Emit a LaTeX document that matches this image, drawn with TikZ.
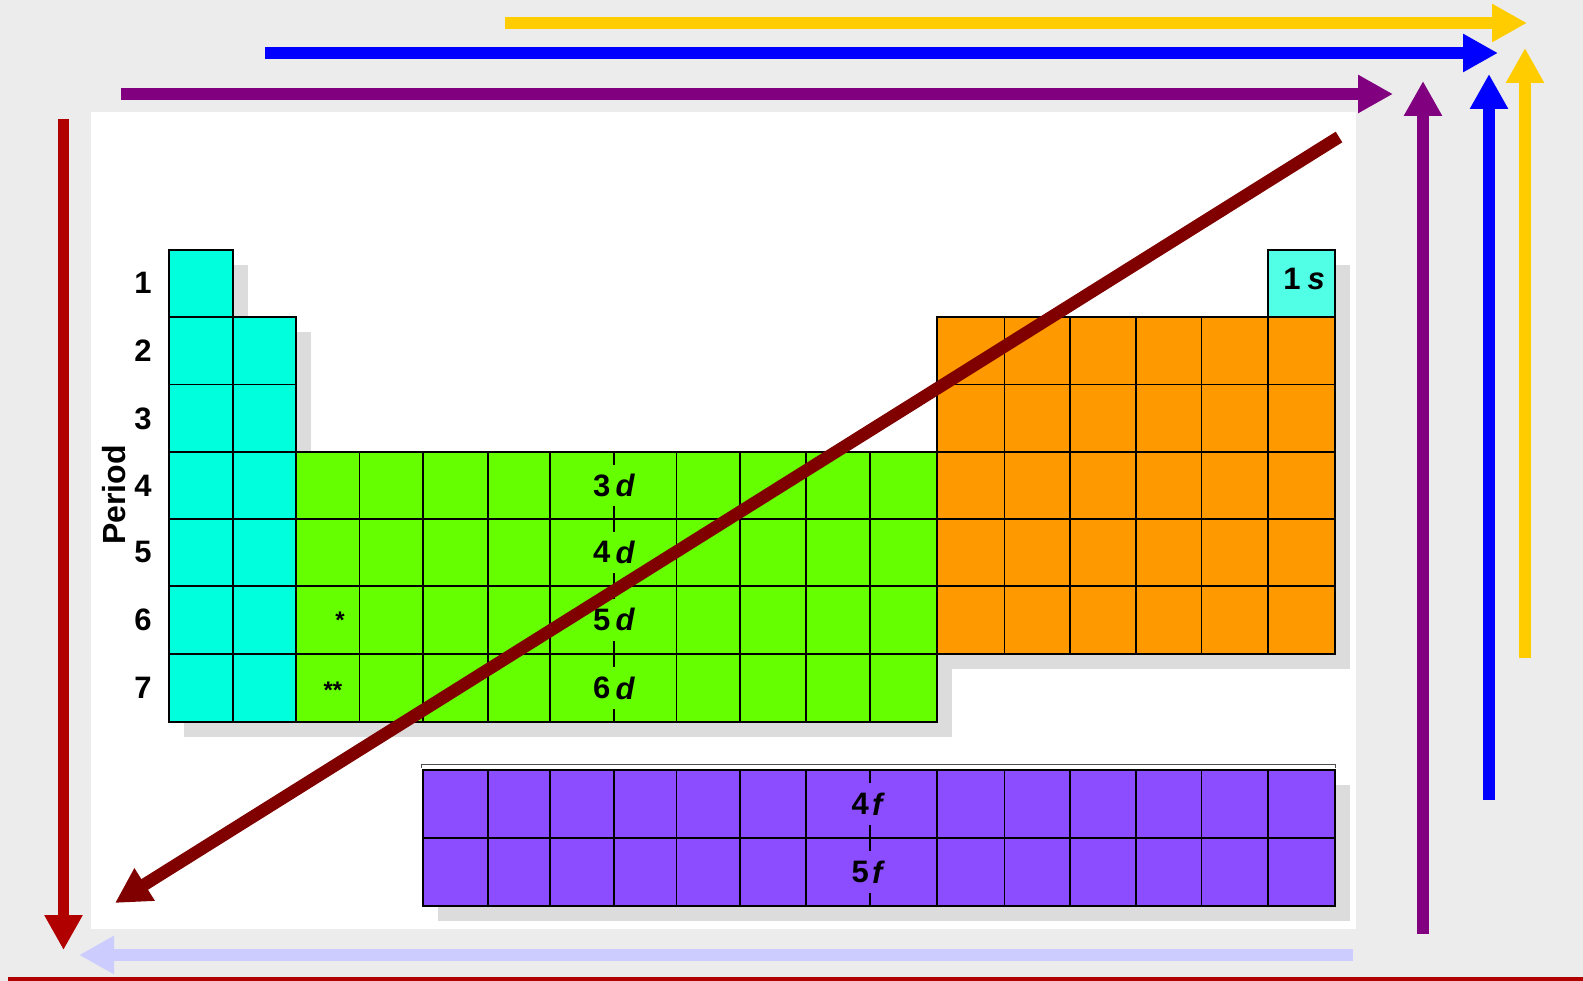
\documentclass[tikz,border=0pt]{standalone}
\usepackage{fontspec}
\setmainfont{Liberation Sans}
\usetikzlibrary{arrows.meta}
\definecolor{bgc}{HTML}{ECECEC}
\definecolor{cyanc}{HTML}{00FFDC}
\definecolor{onesc}{HTML}{50FFE6}
\definecolor{greenc}{HTML}{66FF00}
\definecolor{orangec}{HTML}{FF9900}
\definecolor{purplec}{HTML}{8C4CFF}
\definecolor{shadowc}{HTML}{DCDCDC}
\definecolor{redc}{HTML}{B00000}
\definecolor{darkredc}{HTML}{800000}
\definecolor{violetc}{HTML}{800080}
\definecolor{bluec}{HTML}{0000FF}
\definecolor{yellowc}{HTML}{FFCC00}
\definecolor{lavc}{HTML}{CCCCFF}
\def\xs{{168.6,233.2,295.8,359.4,423,487.6,550.2,613.8,676.4,740,805.6,870.2,936.9,1004.5,1070.2,1135.8,1201.4,1268,1334.6}}
\def\ys{{250.4,317,384.6,452.3,518.9,585.6,654.2,721.8}}
\def\fys{{770.3,838,905.6}}
% cell: column, row, fill colour, row-array
\newcommand\pcell[4]{%
  \pgfmathtruncatemacro\pia{#1-1}%
  \pgfmathtruncatemacro\pja{#2-1}%
  \pgfmathsetmacro\pxa{\xs[\pia]}%
  \pgfmathsetmacro\pxb{\xs[#1]}%
  \pgfmathsetmacro\pya{#4[\pja]}%
  \pgfmathsetmacro\pyb{#4[#2]}%
  \filldraw[cellbox,fill=#3] (\pxa,\pya) rectangle (\pxb,\pyb);}
% shadow block: col from, col to, row from, row to, row-array
\newcommand\pshade[5]{%
  \pgfmathtruncatemacro\pia{#1-1}%
  \pgfmathtruncatemacro\pja{#3-1}%
  \pgfmathsetmacro\pxa{\xs[\pia]}%
  \pgfmathsetmacro\pxb{\xs[#2]}%
  \pgfmathsetmacro\pya{#5[\pja]}%
  \pgfmathsetmacro\pyb{#5[#4]}%
  \fill[shadowc,shift={(15,15)}] (\pxa,\pya) rectangle (\pxb,\pyb);}
\begin{document}
\begin{tikzpicture}[x=1pt,y=-1pt,
  cellbox/.style={draw=black,line width=1.8pt},
  arr/.style={line width=12pt,-{Triangle[length=35pt,width=36pt]}},
  lbl/.style={font=\fontsize{31}{36}\selectfont\bfseries,inner sep=0pt},
  star/.style={font=\fontsize{24}{28}\selectfont\bfseries,inner sep=0pt}]
\useasboundingbox (0,0) rectangle (1583,981);
\fill[bgc] (0,0) rectangle (1583,981);
% white panel
\fill[white] (91,112) rectangle (1356,929);
% shadows
\pshade{1}{1}{1}{1}{\ys}
\pshade{1}{2}{2}{7}{\ys}
\pshade{3}{12}{4}{7}{\ys}
\pshade{13}{18}{2}{6}{\ys}
\pshade{18}{18}{1}{1}{\ys}
\pshade{5}{18}{1}{2}{\fys}
% s block
\pcell{1}{1}{cyanc}{\ys}
\foreach \r in {2,...,7}{\foreach \c in {1,2}{\pcell{\c}{\r}{cyanc}{\ys}}}
% d block
\foreach \r in {4,...,7}{\foreach \c in {3,...,12}{\pcell{\c}{\r}{greenc}{\ys}}}
% p block
\foreach \r in {2,...,6}{\foreach \c in {13,...,18}{\pcell{\c}{\r}{orangec}{\ys}}}
\pcell{18}{1}{onesc}{\ys}
% f block
\foreach \r in {1,2}{\foreach \c in {5,...,18}{\pcell{\c}{\r}{purplec}{\fys}}}
% bracket line above f block
\draw[black!70,line width=1pt] (421,768) -- (421,764) -- (1335,764) -- (1335,768);
% gaps in lines through labels
\foreach \ya/\yb in {452.3/518.9,518.9/585.6,585.6/654.2,654.2/721.8}{
  \fill[greenc] (611.5,\ya+13) rectangle (616.1,\yb-13);}
\foreach \ya/\yb in {770.3/838,838/905.6}{
  \fill[purplec] (867.9,\ya+13) rectangle (872.5,\yb-13);}
% period numbers
\foreach \n/\y in {1/283,2/350.8,3/418.5,4/485.6,5/552.3,6/619.9,7/688}{
  \node[lbl] (per\n) at (143,\y) {\n};}
\node[lbl,font=\fontsize{32}{36}\selectfont\bfseries,rotate=90] (period) at (114,495) {Period};
% block labels
\foreach \n/\y in {3/485.6,4/552.3,5/619.9,6/688}{
  \node[lbl,anchor=east] (dn\n) at (610.5,\y) {\n};
  \node[lbl,anchor=west] (dd\n) at (615.5,\y) {\textit{d}};}
\foreach \n/\y in {4/804.2,5/871.8}{
  \node[lbl,anchor=east] (fn\n) at (869,\y) {\n};
  \node[lbl,anchor=west] (ff\n) at (872,\y) {\textit{f}};}
\node[lbl] (ones) at (1304,279) {1\hspace{7pt}\textit{s}};
\node[star] (st1) at (340,620) {*};
\node[star] (st2) at (333,690) {**};
% arrow end points
\coordinate (yh0) at (505,23);  \coordinate (yh1) at (1527,23);
\coordinate (bh0) at (265,53);  \coordinate (bh1) at (1498,53);
\coordinate (ph0) at (121,94);  \coordinate (ph1) at (1393,94);
\coordinate (pv0) at (1423,934); \coordinate (pv1) at (1423,81);
\coordinate (bv0) at (1489,800); \coordinate (bv1) at (1489,74);
\coordinate (yv0) at (1525,658); \coordinate (yv1) at (1525,48);
\coordinate (rv0) at (63.5,119); \coordinate (rv1) at (63.5,950);
\coordinate (lv0) at (1353,955); \coordinate (lv1) at (79,955);
\coordinate (dg0) at (1339,137); \coordinate (dg1) at (115,903);
\coordinate (bl0) at (8,979);  \coordinate (bl1) at (1583,979);
% arrows
\draw[arr,yellowc] (yh0) -- (yh1);
\draw[arr,bluec] (bh0) -- (bh1);
\draw[arr,violetc] (ph0) -- (ph1);
\draw[arr,violetc] (pv0) -- (pv1);
\draw[arr,bluec] (bv0) -- (bv1);
\draw[arr,yellowc] (yv0) -- (yv1);
\draw[arr,redc,line width=11.5pt] (rv0) -- (rv1);
\draw[arr,lavc] (lv0) -- (lv1);
\draw[arr,darkredc,line width=12.5pt] (dg0) -- (dg1);
\draw[redc,line width=5pt] (bl0) -- (bl1);
\end{tikzpicture}
\end{document}
